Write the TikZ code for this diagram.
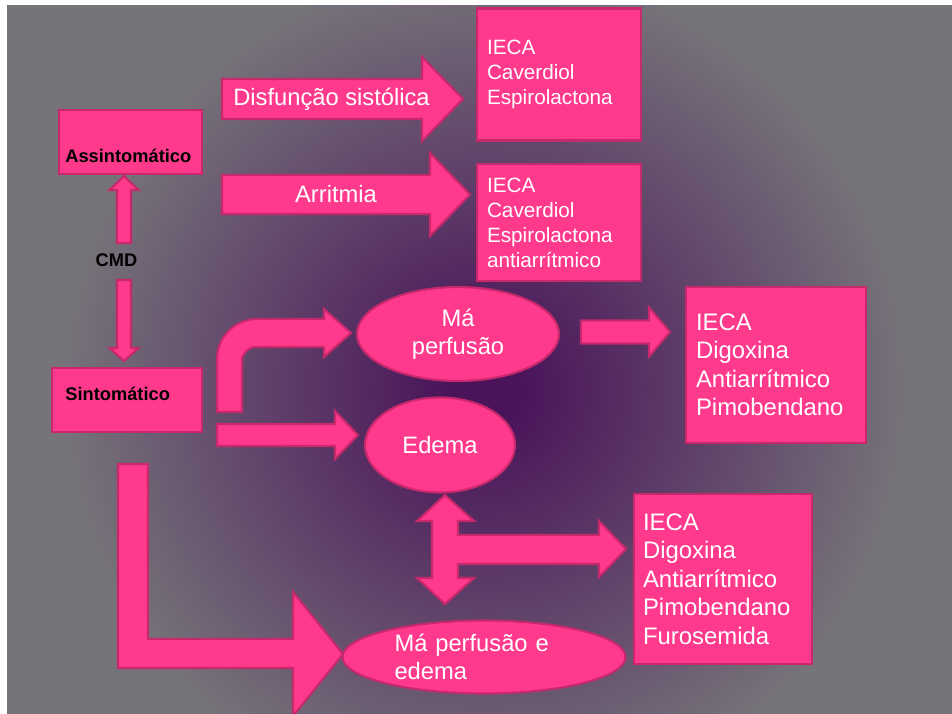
\documentclass[tikz,border=0pt]{standalone}
\usepackage{fontspec}
\setmainfont{Liberation Sans}
\usetikzlibrary{positioning,calc,shapes.geometric}
\definecolor{Pink}{HTML}{FF3A8C}
\definecolor{DPink}{HTML}{C8286C}
\definecolor{BgGray}{HTML}{767379}
\definecolor{BgPurple}{HTML}{4A135A}
\pgfdeclareradialshading{bgglow}{\pgfpointorigin}{color(0bp)=(BgPurple); color(18bp)=(BgPurple); color(240bp)=(BgGray); color(450bp)=(BgGray)}
% block arrows: start, tip, half shaft, half head, head length
\newcommand{\hblock}[5]{%
  \draw[blk] ($(#1)+(0,-#3)$) -- ($(#2)+(-#5,-#3)$) -- ($(#2)+(-#5,-#4)$) -- (#2)
    -- ($(#2)+(-#5,#4)$) -- ($(#2)+(-#5,#3)$) -- ($(#1)+(0,#3)$) -- cycle;}
\newcommand{\vblock}[5]{%
  \draw[blk] ($(#1)+(-#3,0)$) -- ($(#2)+(-#3,#5)$) -- ($(#2)+(-#4,#5)$) -- (#2)
    -- ($(#2)+(#4,#5)$) -- ($(#2)+(#3,#5)$) -- ($(#1)+(#3,0)$) -- cycle;}

\begin{document}
\begin{tikzpicture}[x=0.02cm, y=-0.02cm,
    blk/.style={draw=DPink, fill=Pink, line width=1.2pt},
    drug/.style={draw=DPink, fill=Pink, line width=1.2pt, text=white,
                 align=left, inner xsep=0.2cm,
                 font=\fontsize{11.8}{14.2}\selectfont},
    drugl/.style={drug, font=\fontsize{13.6}{16.2}\selectfont},
    stage/.style={draw=DPink, fill=Pink, line width=1.2pt, minimum height=1.28cm},
    oval/.style={ellipse, draw=DPink, fill=Pink, line width=1.2pt, text=white,
                 inner sep=0pt, font=\fontsize{13.5}{16.2}\selectfont},
    lbl/.style={text=white, font=\fontsize{13.5}{16.2}\selectfont},
    btxt/.style={inner sep=0pt, font=\bfseries\fontsize{10.4}{12.5}\selectfont}
  ]
  \useasboundingbox (0,0) rectangle (952,713);
  % background
  \fill[BgGray] (7,6) rectangle (952,713);
  \begin{scope}
    \clip (7,6) rectangle (952,713);
    \node[inner sep=0pt] (glow) at (485,390) {\pgfuseshading{bgglow}};
  \end{scope}

  % straight arrows
  \coordinate (dsfs) at (222,99);   \coordinate (dsft) at (463,99);
  \coordinate (arrs) at (222,194.5); \coordinate (arrt) at (470,194.5);
  \coordinate (mps) at (581,332);   \coordinate (mpt) at (670,332);
  \coordinate (eds) at (217,435);   \coordinate (edt) at (358,435);
  \coordinate (ups) at (124,243);   \coordinate (upt) at (124,176);
  \coordinate (dns) at (124,280);   \coordinate (dnt) at (124,361);
  \hblock{dsfs}{dsft}{20}{42}{41}
  \hblock{arrs}{arrt}{19.5}{41.5}{40}
  \hblock{mps}{mpt}{11.5}{24.5}{21}
  \hblock{eds}{edt}{11}{24}{23}
  \vblock{ups}{upt}{7}{14.5}{14}
  \vblock{dns}{dnt}{7}{14.5}{-13}

  % bent arrow to Ma perfusao
  \draw[blk] (217,412) -- (217,359) arc[start angle=180, end angle=270, radius=40]
    -- (324,319) -- (324,309) -- (351,333) -- (324,357) -- (324,347) -- (256,347)
    arc[start angle=270, end angle=180, radius=14] -- (242,412) -- cycle;
  % L arrow to Ma perfusao e edema
  \draw[blk] (118,464) -- (148,464) -- (148,639) -- (293,639) -- (293,592)
    -- (343,654) -- (293,716) -- (293,668) -- (118,668) -- cycle;
  % three-way arrow
  \draw[blk] (445,495) -- (474,521) -- (458,521) -- (458,535) -- (599,535)
    -- (599,521) -- (626,549) -- (599,577) -- (599,564) -- (458,564) -- (458,578)
    -- (474,578) -- (445,604) -- (417,578) -- (432,578) -- (432,521) -- (417,521) -- cycle;

  % nodes
  \node[drug, text width=2.88cm, minimum height=2.64cm] (ieca1) at (559,74.5)
    {IECA\\Caverdiol\\Espirolactona};
  \node[drug, text width=2.88cm, minimum height=2.34cm, below=0.43cm of ieca1] (ieca2)
    {IECA\\Caverdiol\\Espirolactona\\antiarrítmico};
  \node[drugl, text width=3.2cm, minimum height=3.12cm] (ieca3) at (776,365)
    {IECA\\Digoxina\\Antiarrítmico\\Pimobendano};
  \node[drugl, text width=3.2cm, inner xsep=0.18cm, minimum height=3.4cm] (ieca4) at (723,579)
    {IECA\\Digoxina\\Antiarrítmico\\Pimobendano\\Furosemida};

  \node[oval, minimum width=4.04cm, minimum height=1.88cm, align=center] (mp) at (458,334)
    {Má\\perfusão};
  \node[oval, minimum width=3.0cm, minimum height=1.9cm] (ed) at (440,445) {Edema};
  \node[oval, minimum width=5.66cm, minimum height=1.46cm, text width=3.58cm, align=left]
    (mpe) at (484,657) {Má perfusão e\\edema};

  \node[stage, minimum width=2.86cm] (asym) at (130.5,142) {};
  \node[stage, minimum width=3.0cm] (sym) at (127,400) {};
  \node[btxt, anchor=base west] (asymt) at (65,162) {Assintomático};
  \node[btxt, anchor=base west] (symt) at (65,400) {Sintomático};
  \node[btxt] (cmd) at (116.5,260) {CMD};

  \node[lbl] (dsf) at (331.5,99) {Disfunção sistólica};
  \node[lbl] (arr) at (336,194.5) {Arritmia};
\end{tikzpicture}
\end{document}
